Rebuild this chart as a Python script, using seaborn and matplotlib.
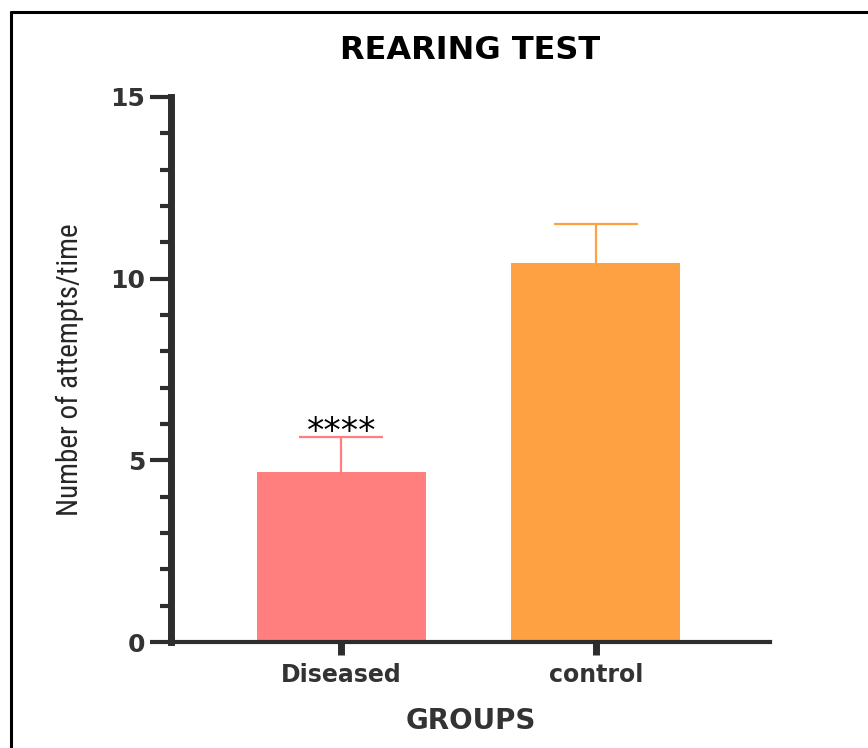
import matplotlib
matplotlib.use("Agg")
import matplotlib.pyplot as plt
from matplotlib import font_manager
from matplotlib.lines import Line2D
from matplotlib.ticker import MultipleLocator
import seaborn as sns
import pandas as pd

# ---- data ----
groups = ["Diseased", "control"]
means = [4.69, 10.42]
sem = [0.96, 1.08]
bar_colors = ["#FF7F7F", "#FEA142"]
y_ticks = [0, 5, 10, 15]
significance = ["****", ""]

sns.set_theme(style="ticks")
plt.rcParams["font.family"] = ["DejaVu Sans"]

names = {f.name for f in font_manager.fontManager.ttflist}
if "Liberation Sans Narrow" in names:
    ylab_family, ylab_size = "Liberation Sans Narrow", 23
elif "Roboto Condensed" in names:
    ylab_family, ylab_size = "Roboto Condensed", 21
else:
    ylab_family, ylab_size = "DejaVu Sans", 16.5

df = pd.DataFrame({"group": groups, "mean": means})

fig = plt.figure(figsize=(8.68, 7.48), dpi=100)
ax = fig.add_axes([171 / 868, 1 - 642 / 748, (770 - 171) / 868, (642 - 97) / 748])

# error bars (upper only), drawn under bars
for i, (m, e, c) in enumerate(zip(means, sem, bar_colors)):
    _, caps, _ = ax.errorbar(i, m, yerr=[[0], [e]], fmt="none", ecolor=c,
                             elinewidth=1.6, capsize=30.5, capthick=1.6,
                             zorder=1)
    for cap in caps:
        if abs(cap.get_ydata()[0] - m) < 1e-9:
            cap.set_visible(False)

sns.barplot(data=df, x="group", y="mean", hue="group", palette=bar_colors,
            legend=False, width=0.664, errorbar=None, saturation=1,
            linewidth=0, ax=ax, zorder=2)

for i, (m, e, s) in enumerate(zip(means, sem, significance)):
    if s:
        ax.annotate(s, xy=(i, m + e), xytext=(0, -4), textcoords="offset points",
                    ha="center", va="baseline", fontsize=25, color="black",
                    zorder=5)

ax.set_xlim(-0.670, 1.684)
ax.set_ylim(0, 15)
ax.set_yticks(y_ticks)
ax.yaxis.set_minor_locator(MultipleLocator(1))

axis_col = "#2d2d2d"
for side in ["top", "right"]:
    ax.spines[side].set_visible(False)
ax.spines["left"].set_linewidth(5)
ax.spines["bottom"].set_linewidth(3)
ax.spines["left"].set_color(axis_col)
ax.spines["bottom"].set_color(axis_col)
ax.spines["left"].set_zorder(6)
ax.spines["bottom"].set_zorder(6)

ax.tick_params(axis="y", which="major", length=15, width=3, color=axis_col,
               pad=3.6, labelsize=18, labelcolor="#333333", direction="out")
ax.tick_params(axis="y", which="minor", length=8, width=3, color=axis_col,
               direction="out")
ax.tick_params(axis="x", which="major", length=9, width=5, color=axis_col,
               pad=5.8, labelsize=17, labelcolor="#333333", direction="out")
for lab in ax.get_xticklabels() + ax.get_yticklabels():
    lab.set_fontweight("bold")

ax.set_xlabel("GROUPS", fontsize=20, fontweight="bold", color="#333333",
              labelpad=15)
ax.set_ylabel("Number of attempts/time", fontsize=ylab_size, family=ylab_family,
              color="#262626", fontstretch="condensed")
ax.yaxis.set_label_coords((70 - 171) / (770 - 171), 0.5)
ax.yaxis.label.set_va("center")

ax.set_title("REARING TEST", fontsize=23, fontweight="bold", color="black",
             pad=27.5)

ax.set_facecolor("white")
fig.patch.set_facecolor("white")

# outer frame (left and top edges of a cropped border)
fig.add_artist(Line2D([10.5 / 868, 10.5 / 868], [0, 1 - 12 / 748],
                      transform=fig.transFigure, color="black", linewidth=2.2))
fig.add_artist(Line2D([10.5 / 868, 1], [1 - 12 / 748, 1 - 12 / 748],
                      transform=fig.transFigure, color="black", linewidth=2.2))

fig.savefig("out.png", dpi=100, facecolor="white")
